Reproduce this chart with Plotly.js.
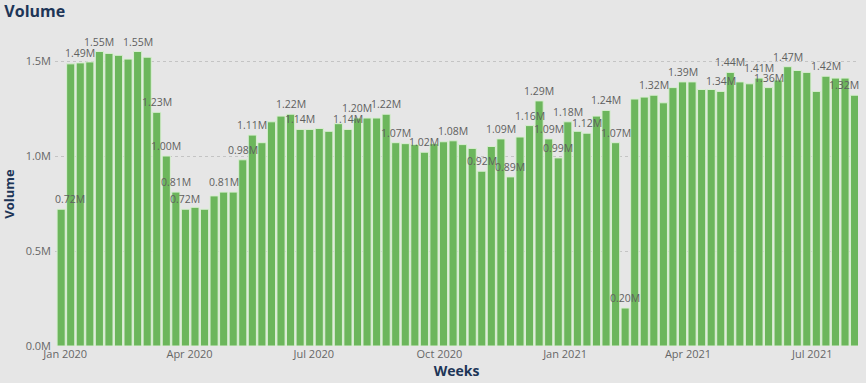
<!DOCTYPE html>
<html>
<head>
<meta charset="utf-8">
<script src="https://cdn.plot.ly/plotly-3.0.1.min.js"></script>
<style>
  html, body { margin: 0; padding: 0; background: #e6e6e6; }
  #chart { width: 866px; height: 383px; }
</style>
</head>
<body>
<div id="chart"></div>
<script>
// Week start dates (categories)
const weeks = [
  "2019-12-29","2020-01-05","2020-01-12","2020-01-19","2020-01-26","2020-02-02","2020-02-09","2020-02-16","2020-02-23",
  "2020-03-01","2020-03-08","2020-03-15","2020-03-22","2020-03-29","2020-04-05","2020-04-12","2020-04-19","2020-04-26",
  "2020-05-03","2020-05-10","2020-05-17","2020-05-24","2020-05-31","2020-06-07","2020-06-14","2020-06-21","2020-06-28",
  "2020-07-05","2020-07-12","2020-07-19","2020-07-26","2020-08-02","2020-08-09","2020-08-16","2020-08-23","2020-08-30",
  "2020-09-06","2020-09-13","2020-09-20","2020-09-27","2020-10-04","2020-10-11","2020-10-18","2020-10-25","2020-11-01",
  "2020-11-08","2020-11-15","2020-11-22","2020-11-29","2020-12-06","2020-12-13","2020-12-20","2020-12-27","2021-01-03",
  "2021-01-10","2021-01-17","2021-01-24","2021-01-31","2021-02-07","2021-02-14","2021-02-21","2021-02-28","2021-03-07",
  "2021-03-14","2021-03-21","2021-03-28","2021-04-04","2021-04-11","2021-04-18","2021-04-25","2021-05-02","2021-05-09",
  "2021-05-16","2021-05-23","2021-05-30","2021-06-06","2021-06-13","2021-06-20","2021-06-27","2021-07-04","2021-07-11",
  "2021-07-18","2021-07-25","2021-08-01"
];

// Weekly volume, in millions
const volume = [
  0.72, 1.485, 1.49, 1.495, 1.55, 1.54, 1.53, 1.51, 1.55,
  1.52, 1.23, 1.00, 0.81, 0.72, 0.73, 0.72, 0.79, 0.81,
  0.81, 0.98, 1.11, 1.07, 1.18, 1.21, 1.22, 1.14, 1.14,
  1.145, 1.13, 1.17, 1.14, 1.20, 1.20, 1.20, 1.22, 1.07,
  1.065, 1.06, 1.02, 1.065, 1.075, 1.08, 1.06, 1.04, 0.92,
  1.05, 1.09, 0.89, 1.10, 1.16, 1.29, 1.09, 0.99, 1.18,
  1.13, 1.12, 1.21, 1.24, 1.07, 0.20, 1.30, 1.31, 1.32,
  1.28, 1.36, 1.39, 1.39, 1.35, 1.35, 1.34, 1.44, 1.39,
  1.38, 1.41, 1.36, 1.40, 1.47, 1.45, 1.44, 1.34, 1.42,
  1.41, 1.41, 1.32
];

// Indices (0-based) of bars that show a data label
const labelled = [0, 2, 4, 8, 10, 11, 12, 13, 17, 19, 20, 24, 25, 30, 31, 34, 35, 38, 41, 44, 46, 47,
  49, 50, 51, 52, 53, 55, 57, 58, 59, 62, 65, 69, 70, 73, 74, 76, 80, 83];

// Y tick values and labels (millions)
const yTicks = [0, 0.5, 1.0, 1.5];
const yTickText = ["0.0M", "0.5M", "1.0M", "1.5M"];

const FONT = "'Segoe UI', 'Open Sans', sans-serif";
const NAVY = "#1d3557";
const GREY = "#666666";

const lastIdx = volume.length - 1;
const annotations = labelled.map(i => ({
  x: weeks[i],
  y: volume[i],
  xref: "x", yref: "y",
  text: volume[i].toFixed(2) + "M",
  showarrow: false,
  yanchor: "bottom",
  xanchor: "center",
  yshift: 1,
  xshift: i === 0 ? 9 : (i === lastIdx ? -11 : 0),
  font: { family: FONT, size: 10.5, color: "#5f5f5f" }
}));

const trace = {
  type: "bar",
  x: weeks,
  y: volume,
  marker: {
    color: "#6cb65c",
    line: { color: "#d9efd2", width: 1 }
  },
  hoverinfo: "skip"
};

const layout = {
  width: 866,
  height: 383,
  paper_bgcolor: "#e6e6e6",
  plot_bgcolor: "#e6e6e6",
  margin: { l: 55, r: 8, t: 42, b: 37, pad: 0 },
  bargap: 0.15,
  showlegend: false,
  title: {
    text: "<b>Volume</b>",
    font: { family: FONT, size: 16, color: NAVY },
    xref: "container", yref: "container",
    x: 0.005, xanchor: "left",
    y: 0.97, yanchor: "middle"
  },
  xaxis: {
    type: "date",
    range: ["2019-12-24 12:00", "2021-08-03 12:00"],
    tick0: "2020-01-01",
    dtick: "M3",
    tickformat: "%b %Y",
    showgrid: false,
    zeroline: false,
    showline: false,
    ticks: "",
    tickfont: { family: FONT, size: 11, color: GREY },
    title: {
      text: "<b>Weeks</b>",
      font: { family: FONT, size: 14, color: NAVY },
      standoff: 6
    },
    automargin: false
  },
  yaxis: {
    range: [0, 1.6],
    tickvals: yTicks,
    ticktext: yTickText,
    showgrid: true,
    gridcolor: "#c4c4c4",
    griddash: "dot",
    gridwidth: 1,
    zeroline: false,
    showline: false,
    ticks: "",
    ticklabelstandoff: 3,
    tickfont: { family: FONT, size: 11, color: GREY },
    title: {
      text: "<b>Volume</b>",
      font: { family: FONT, size: 13, color: NAVY },
      standoff: 8
    },
    automargin: false
  },
  annotations: annotations
};

Plotly.newPlot("chart", [trace], layout, { displayModeBar: false, staticPlot: true });
</script>
</body>
</html>
